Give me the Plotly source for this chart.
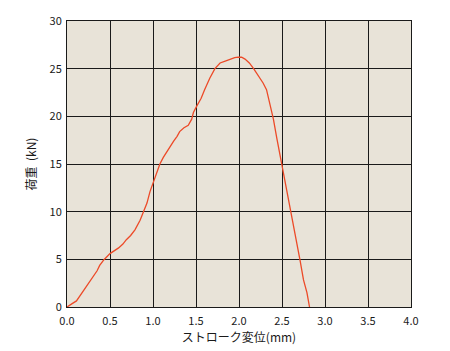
import plotly.graph_objects as go

stroke_mm = [0.0, 0.02, 0.06, 0.11, 0.16, 0.21, 0.26, 0.31, 0.35, 0.38, 0.43, 0.50, 0.55, 0.60, 0.65,
             0.69, 0.74, 0.79, 0.85, 0.89, 0.93, 0.965, 1.0, 1.04, 1.08, 1.12, 1.16, 1.20, 1.24, 1.28,
             1.31, 1.36, 1.41, 1.45, 1.47, 1.51, 1.56, 1.60, 1.66, 1.72, 1.78, 1.84, 1.90, 1.95, 1.99,
             2.03, 2.07, 2.12, 2.17, 2.20, 2.24, 2.28, 2.32, 2.34, 2.36, 2.40, 2.44, 2.47, 2.50, 2.55,
             2.60, 2.65, 2.71, 2.75, 2.79, 2.82]
load_kN = [0.0, 0.15, 0.35, 0.64, 1.3, 2.0, 2.6, 3.2, 3.8, 4.36, 4.96, 5.6, 5.9, 6.2, 6.6,
           7.06, 7.5, 8.1, 9.1, 10.0, 10.9, 12.1, 13.0, 14.0, 15.0, 15.7, 16.3, 16.9, 17.4, 17.9,
           18.4, 18.8, 19.05, 19.7, 20.4, 21.1, 21.9, 22.8, 24.0, 25.0, 25.6, 25.8, 26.0, 26.15, 26.2,
           26.2, 26.0, 25.6, 25.0, 24.6, 24.1, 23.5, 22.8, 22.0, 21.1, 19.7, 17.7, 16.3, 15.0, 12.6,
           10.0, 7.6, 4.9, 2.84, 1.5, 0.0]

x_ticks = [0, 0.5, 1.0, 1.5, 2.0, 2.5, 3.0, 3.5, 4.0]
x_tick_labels = ["0.0", "0.5", "1.0", "1.5", "2.0", "2.5", "3.0", "3.5", "4.0"]
y_ticks = [0, 5, 10, 15, 20, 25, 30]

font_family = "Noto Sans CJK JP"

fig = go.Figure()
fig.add_trace(go.Scatter(
    x=stroke_mm, y=load_kN, mode="lines",
    line=dict(color="#ec4a28", width=1.3),
    hoverinfo="skip", showlegend=False,
))

fig.update_layout(
    width=450, height=351,
    margin=dict(l=67, r=39, t=12, b=43),
    paper_bgcolor="white",
    plot_bgcolor="#e8e3d8",
    font=dict(family=font_family, size=11, color="#1a1a1a"),
    xaxis=dict(
        range=[0, 4], tickvals=x_ticks, ticktext=x_tick_labels,
        showgrid=True, gridcolor="#1a1a1a", gridwidth=1,
        showline=True, linecolor="#1a1a1a", linewidth=1, mirror=True,
        zeroline=False, ticks="", ticklen=0, ticklabelstandoff=4,
        title=dict(text="ストローク変位(mm)", font=dict(size=12, family=font_family), standoff=2),
        tickfont=dict(size=11),
    ),
    yaxis=dict(
        range=[0, 30], tickvals=y_ticks,
        showgrid=True, gridcolor="#1a1a1a", gridwidth=1,
        showline=True, linecolor="#1a1a1a", linewidth=1, mirror=True,
        zeroline=False, ticks="", ticklen=0, ticklabelstandoff=2,
        title=dict(text="荷重  (kN)", font=dict(size=12, family=font_family), standoff=10),
        tickfont=dict(size=11),
    ),
)

fig.write_html("out.html")
